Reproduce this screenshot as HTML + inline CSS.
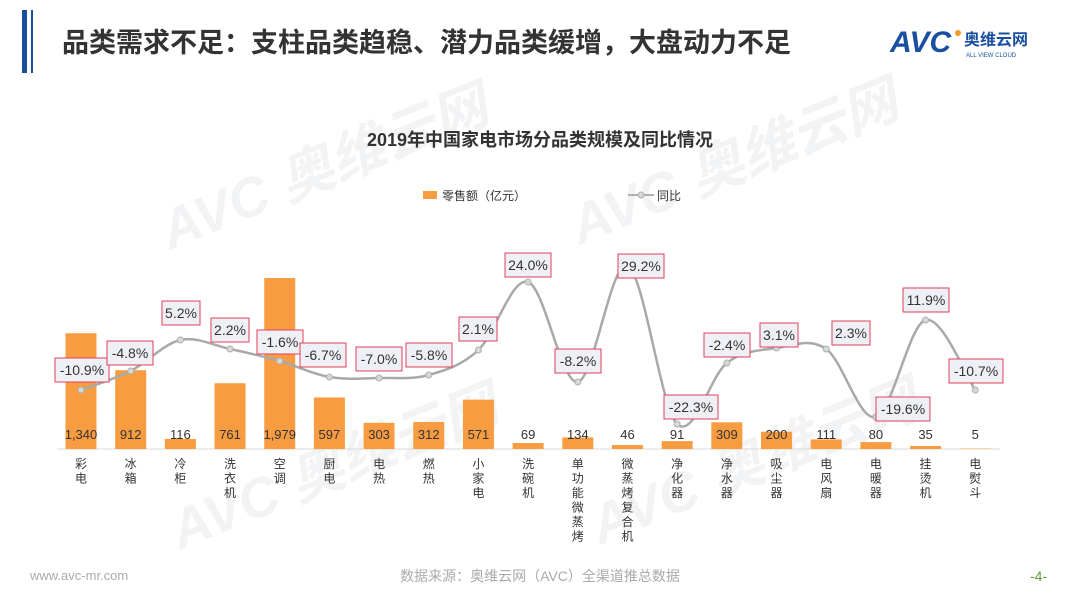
<!DOCTYPE html>
<html><head><meta charset="utf-8"><style>
body{margin:0;width:1080px;height:608px;background:#fff;overflow:hidden;font-family:"Liberation Sans","Noto Sans CJK SC",sans-serif;}
</style></head><body>
<svg id="s" width="1080" height="608" xmlns="http://www.w3.org/2000/svg" font-family="Liberation Sans, Noto Sans CJK SC, sans-serif">
<g fill="#f2f3f5" font-weight="bold" font-style="italic">
<text x="170" y="250" font-size="55" transform="rotate(-22 170 250)">AVC 奥维云网</text>
<text x="580" y="245" font-size="55" transform="rotate(-22 580 245)">AVC 奥维云网</text>
<text x="180" y="550" font-size="55" transform="rotate(-22 180 550)">AVC 奥维云网</text>
<text x="600" y="545" font-size="55" transform="rotate(-22 600 545)">AVC 奥维云网</text>
</g>
<rect x="22" y="10" width="5" height="63" fill="#1a4fa0"/>
<rect x="31" y="10" width="2" height="63" fill="#1a4fa0"/>
<text x="62" y="52" font-size="27" font-weight="bold" fill="#333">品类需求不足：支柱品类趋稳、潜力品类缓增，大盘动力不足</text>
<text x="890" y="52" font-size="30" font-weight="bold" fill="#1a4fa0" font-style="italic">AVC</text>
<circle cx="958" cy="33" r="3" fill="#f39a2b"/>
<text x="964" y="45" font-size="16" font-weight="bold" fill="#1a4fa0">奥维云网</text>
<text x="966" y="57" font-size="6" fill="#1a4fa0">ALL VIEW CLOUD</text>
<text x="540" y="146" font-size="18" font-weight="bold" fill="#333" text-anchor="middle">2019年中国家电市场分品类规模及同比情况</text>
<rect x="423" y="191" width="14" height="8" fill="#f89c42"/>
<text x="442" y="200" font-size="12" fill="#333">零售额（亿元）</text>
<line x1="628" y1="195" x2="654" y2="195" stroke="#b0b0b0" stroke-width="2"/>
<circle cx="641" cy="195" r="3" fill="#d8d8d8" stroke="#b0b0b0"/>
<text x="657" y="200" font-size="12" fill="#333">同比</text>
<line x1="57" y1="449" x2="1000" y2="449" stroke="#d9d9d9" stroke-width="1"/>
<g id="g"></g>
<text x="30" y="580" font-size="13" fill="#aaa">www.avc-mr.com</text>
<text x="540" y="581" font-size="14" fill="#aaa" text-anchor="middle">数据来源：奥维云网（AVC）全渠道推总数据</text>
<text x="1030" y="581" font-size="14" fill="#5a9a3c">-4-</text>
</svg>
<script>
var cats=["彩电","冰箱","冷柜","洗衣机","空调","厨电","电热","燃热","小家电","洗碗机","单功能微蒸烤","微蒸烤复合机","净化器","净水器","吸尘器","电风扇","电暖器","挂烫机","电熨斗"];
var vals=[1340,912,116,761,1979,597,303,312,571,69,134,46,91,309,200,111,80,35,5];
var vs=["1,340","912","116","761","1,979","597","303","312","571","69","134","46","91","309","200","111","80","35","5"];
var py=[390,371,340,349,361,377,378,375,350,282,382,266,424,363,348,349,417,320,390];
var pct=["-10.9%","-4.8%","5.2%","2.2%","-1.6%","-6.7%","-7.0%","-5.8%","2.1%","24.0%","-8.2%","29.2%","-22.3%","-2.4%","3.1%","2.3%","-19.6%","11.9%","-10.7%"];
var lb=[[82,370],[130,353],[181,313],[230,330],[280,342],[323,355],[379,359],[429,355],[478,329],[528,265],[578,361],[641,266],[691,407],[727,345],[779,335],[851,333],[903,409],[926,300],[976,371]];
var h="";var xs=[];
for(var i=0;i<19;i++){var cx=81+i*49.68;xs.push(cx);var bh=vals[i]*0.0864;
h+='<rect x="'+(cx-15.5)+'" y="'+(449-bh)+'" width="31" height="'+bh+'" fill="#f89c42"/>';
h+='<text x="'+cx+'" y="439" font-size="13" fill="#333" text-anchor="middle">'+vs[i]+'</text>';
var c=cats[i];for(var j=0;j<c.length;j++)h+='<text x="'+cx+'" y="'+(468+j*14.5)+'" font-size="12" fill="#333" text-anchor="middle">'+c[j]+'</text>';}
var d="M"+xs[0]+","+py[0];
for(var i=0;i<18;i++){var p0=i>0?i-1:i,p3=i<17?i+2:i+1;
var c1x=xs[i]+(xs[i+1]-xs[p0])/6,c1y=py[i]+(py[i+1]-py[p0])/6,c2x=xs[i+1]-(xs[p3]-xs[i])/6,c2y=py[i+1]-(py[p3]-py[i])/6;
d+=" C"+c1x+","+c1y+" "+c2x+","+c2y+" "+xs[i+1]+","+py[i+1];}
h+='<path d="'+d+'" fill="none" stroke="#a9a9a9" stroke-width="2.5"/>';
for(var i=0;i<19;i++){h+='<circle cx="'+xs[i]+'" cy="'+py[i]+'" r="3" fill="#d8d8d8" stroke="#b0b0b0"/>';
var w=pct[i].length*8+6;h+='<rect x="'+(lb[i][0]-w/2)+'" y="'+(lb[i][1]-12)+'" width="'+w+'" height="24" fill="#eef0f6" stroke="#e0405a" stroke-width="1"/>';
h+='<text x="'+lb[i][0]+'" y="'+(lb[i][1]+5)+'" font-size="14" fill="#333" text-anchor="middle">'+pct[i]+'</text>';}
document.getElementById("g").innerHTML=h;
</script>
</body></html>
